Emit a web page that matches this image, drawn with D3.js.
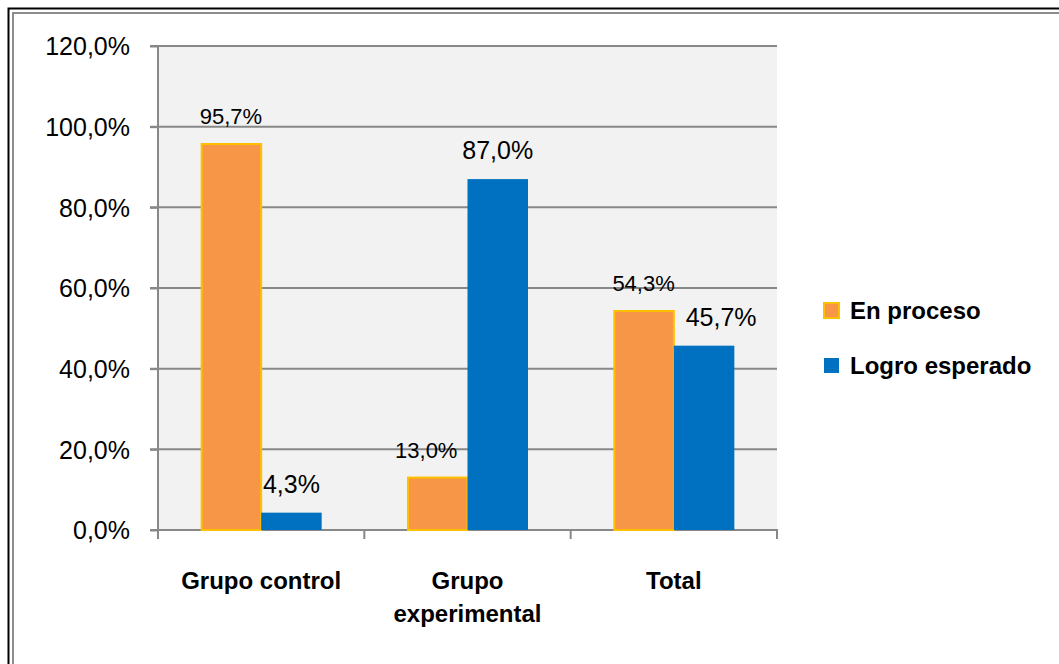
<!DOCTYPE html>
<html><head><meta charset="utf-8">
<script src="https://cdn.jsdelivr.net/npm/d3@7/dist/d3.min.js"></script>
<style>html,body{margin:0;padding:0;background:#fff;}svg{display:block;}</style>
</head><body>
<script>
const categories = [["Grupo control"], ["Grupo", "experimental"], ["Total"]];
const seriesNames = ["En proceso", "Logro esperado"];
const enProceso = [95.7, 13.0, 54.3];
const logroEsperado = [4.3, 87.0, 45.7];
const yTicks = [0, 20, 40, 60, 80, 100, 120];

(function () {
const W = 1059, H = 664;
const svg = d3.select("body").append("svg").attr("width", W).attr("height", H);
const font = "'Liberation Sans', Arial, sans-serif";
// manual label nudges (as in the original, px)
const nudge = {"En proceso": [0, -11, 0], "Logro esperado": [0, 0, 17]};

// outer double border (extends beyond bottom/right)
svg.append("rect").attr("x", 8.5).attr("y", 8.5).attr("width", W + 20).attr("height", H + 20)
  .attr("fill", "none").attr("stroke", "#000").attr("stroke-width", 2);
svg.append("rect").attr("x", 13).attr("y", 13).attr("width", W + 20).attr("height", H + 20)
  .attr("fill", "none").attr("stroke", "#8c8c8c").attr("stroke-width", 2);

const pL = 158, pR = 777, pT = 46, pB = 530;
const catKeys = categories.map(c => c.join(" "));
const x = d3.scaleBand().domain(catKeys).range([pL, pR]).paddingInner(0).paddingOuter(0);
const xs = d3.scaleBand().domain(seriesNames).range([0, x.bandwidth()]).paddingInner(0).paddingOuter(0.705);
const y = d3.scaleLinear().domain([0, 120]).range([pB, pT]);

svg.append("rect").attr("x", pL).attr("y", pT).attr("width", pR - pL).attr("height", pB - pT).attr("fill", "#f2f2f2");

// gridlines
svg.append("g").selectAll("line").data(yTicks.filter(t => t > 0)).join("line")
  .attr("x1", pL - 8).attr("x2", pR).attr("y1", d => y(d)).attr("y2", d => y(d))
  .attr("stroke", "#888").attr("stroke-width", 2);

// y axis
const yAxis = d3.axisLeft(y).tickValues(yTicks).tickSize(8).tickPadding(20)
  .tickFormat(d => d3.format(".1f")(d).replace(".", ",") + "%");
const ga = svg.append("g").attr("transform", `translate(${pL},0)`).call(yAxis);
ga.select(".domain").attr("stroke", "#888").attr("stroke-width", 2).attr("d", `M-8,${pT}H0V${pB}`);
ga.selectAll(".tick line").attr("stroke", "#888").attr("stroke-width", 2);
ga.selectAll(".tick text").attr("font-family", font).attr("font-size", 25).attr("fill", "#000").attr("dy", "0.35em");

// x axis
const gx = svg.append("g").attr("transform", `translate(0,${pB})`);
gx.append("line").attr("x1", pL - 8).attr("x2", pR + 1).attr("y1", 0).attr("y2", 0).attr("stroke", "#888").attr("stroke-width", 2);
const tickXs = catKeys.map(k => x(k)).concat([pR]);
gx.selectAll("line.t").data(tickXs).join("line").attr("class", "t")
  .attr("x1", d => d).attr("x2", d => d).attr("y1", 0).attr("y2", 9).attr("stroke", "#888").attr("stroke-width", 2);

// category labels
categories.forEach((lines, i) => {
  const cx = x(catKeys[i]) + x.bandwidth() / 2;
  const t = svg.append("text").attr("x", cx).attr("y", 589).attr("text-anchor", "middle")
    .attr("font-family", font).attr("font-weight", "bold").attr("font-size", 24).attr("fill", "#000");
  lines.forEach((l, j) => t.append("tspan").attr("x", cx).attr("dy", j === 0 ? 0 : 33).text(l));
});

const series = [
  {name: seriesNames[0], values: enProceso, fill: "#f79646", stroke: "#ffc000", fs: 22},
  {name: seriesNames[1], values: logroEsperado, fill: "#0070c0", stroke: "none", fs: 25}
];
const fmt = v => d3.format(".1f")(v).replace(".", ",") + "%";

series.forEach(s => {
  const g = svg.append("g");
  const hasStroke = s.stroke !== "none";
  g.selectAll("rect").data(s.values).join("rect")
    .attr("x", (d, i) => x(catKeys[i]) + xs(s.name) + (hasStroke ? 1 : 0))
    .attr("y", d => y(d))
    .attr("width", xs.bandwidth() - (hasStroke ? 1 : 0))
    .attr("height", d => pB - y(d))
    .attr("fill", s.fill).attr("stroke", s.stroke).attr("stroke-width", 2);
  g.selectAll("text").data(s.values).join("text")
    .attr("x", (d, i) => x(catKeys[i]) + xs(s.name) + xs.bandwidth() / 2 + nudge[s.name][i])
    .attr("y", d => y(d) - 20)
    .attr("text-anchor", "middle").attr("font-family", font).attr("font-size", s.fs).attr("fill", "#000")
    .text(d => fmt(d));
});

// legend
const leg = svg.append("g");
series.forEach((s, i) => {
  const ly = 311 + i * 55;
  leg.append("rect").attr("x", 824).attr("y", ly - 8).attr("width", 15).attr("height", 15)
    .attr("fill", s.fill).attr("stroke", s.stroke).attr("stroke-width", 2);
  leg.append("text").attr("x", 850).attr("y", ly).attr("dy", "0.35em")
    .attr("font-family", font).attr("font-weight", "bold").attr("font-size", 24).attr("fill", "#000").text(s.name);
});
})();
</script>
</body></html>
